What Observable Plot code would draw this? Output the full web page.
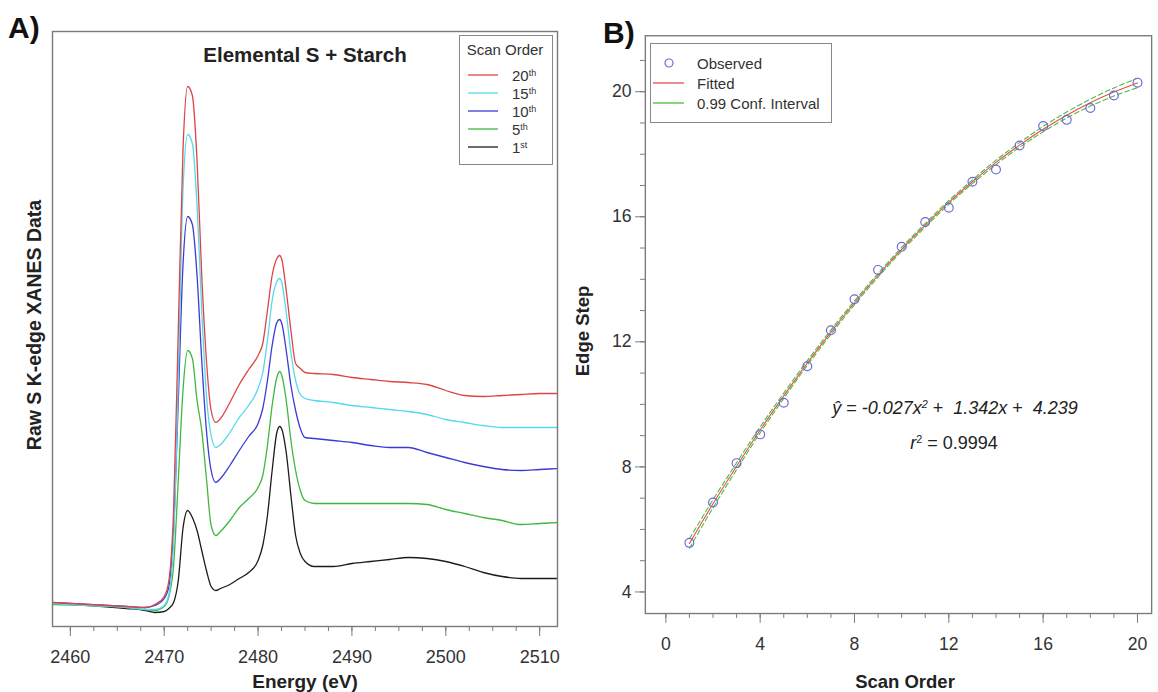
<!DOCTYPE html>
<html><head><meta charset="utf-8">
<script src="https://cdn.jsdelivr.net/npm/d3@7"></script>
<script src="https://cdn.jsdelivr.net/npm/@observablehq/plot@0.6"></script>
<style>
html,body{margin:0;padding:0;background:#fff;overflow:hidden;width:1158px;height:692px;}
body{position:relative;font-family:"Liberation Sans",Arial,Helvetica,sans-serif;color:#222;}
.abs{position:absolute;white-space:nowrap;line-height:1;}
.abs svg{display:block;}
#pa{position:absolute;left:0;top:0;}
#pb{position:absolute;left:590px;top:0;}
sup{font-size:0.6em;vertical-align:0.55em;}
</style></head><body>
<div id="pa"></div><div id="pb"></div>
<script>
// ---------- Panel A data (arbitrary intensity units) ----------
const energy = [2458, 2462, 2466, 2468, 2469, 2470, 2470.5, 2471, 2471.5, 2472, 2472.5, 2473, 2473.5, 2474, 2474.5, 2475, 2475.5, 2476, 2477, 2478, 2479, 2480, 2480.5, 2481, 2481.5, 2482, 2482.3, 2482.5, 2483, 2483.5, 2484, 2484.5, 2485, 2486, 2488, 2490, 2492, 2494, 2496, 2498, 2500, 2502, 2504, 2506, 2508, 2510, 2512];
const scan20 = [24, 22, 20, 19, 22, 30, 46, 116, 296, 476, 540, 531, 466, 351, 266, 216, 204, 208, 224, 242, 257, 271, 283, 316, 351, 368, 371, 368, 336, 296, 263, 258, 254, 253, 252, 249, 247, 245, 244, 242, 236, 231, 230, 231, 232, 233, 233];
const scan15 = [23, 21, 19, 17, 17, 21, 32, 86, 246, 436, 492, 483, 421, 316, 231, 191, 179, 182, 194, 209, 221, 238, 254, 286, 326, 345, 348, 345, 314, 274, 246, 232, 228, 226, 224, 221, 219, 217, 215, 212, 207, 204, 201, 199, 199, 199, 199];
const scan10 = [24, 22, 20, 19, 21, 28, 40, 96, 226, 361, 410, 402, 351, 266, 196, 156, 144, 148, 161, 176, 190, 203, 218, 246, 281, 304, 307, 304, 276, 241, 216, 198, 189, 188, 186, 184, 181, 179, 179, 174, 169, 164, 160, 157, 156, 157, 158];
const scan5 = [22, 21, 19, 17, 16, 20, 30, 61, 146, 236, 276, 268, 226, 196, 148, 101, 91, 95, 106, 119, 128, 139, 151, 181, 221, 249, 255, 252, 226, 186, 156, 136, 126, 123, 123, 123, 123, 123, 123, 122, 117, 113, 109, 106, 102, 103, 104];
const scan1 = [23, 21, 18, 16, 14, 15, 18, 24, 46, 98, 116, 109, 96, 76, 56, 40, 36, 38, 42, 48, 54, 66, 81, 111, 156, 194, 200, 198, 174, 131, 91, 73, 65, 60, 60, 63, 65, 67, 69, 68, 65, 60, 54, 50, 48, 48, 48];
const scanNames = ["20th", "15th", "10th", "5th", "1st"];
const scanColors = ["#dd4444", "#55d8ee", "#3b3bd4", "#3fb83f", "#1c1c1c"];
const energyTicks = [2460, 2470, 2480, 2490, 2500, 2510];
const energyMinor = [2460, 2462.5, 2465, 2467.5, 2470, 2472.5, 2475, 2477.5, 2480, 2482.5, 2485, 2487.5, 2490, 2492.5, 2495, 2497.5, 2500, 2502.5, 2505, 2507.5, 2510];

// ---------- Panel B data ----------
const scanOrder = [1, 2, 3, 4, 5, 6, 7, 8, 9, 10, 11, 12, 13, 14, 15, 16, 17, 18, 19, 20];
const edgeStep = [5.57, 6.86, 8.12, 9.04, 10.05, 11.22, 12.37, 13.36, 14.30, 15.04, 15.83, 16.29, 17.12, 17.51, 18.28, 18.90, 19.10, 19.48, 19.88, 20.29];
const fitted = [5.55, 6.82, 8.02, 9.18, 10.27, 11.32, 12.31, 13.25, 14.13, 14.96, 15.73, 16.46, 17.12, 17.74, 18.29, 18.80, 19.25, 19.65, 19.99, 20.28];
const ciLower = [5.40, 6.69, 7.91, 9.09, 10.19, 11.25, 12.24, 13.19, 14.07, 14.90, 15.67, 16.40, 17.06, 17.67, 18.22, 18.72, 19.16, 19.54, 19.86, 20.13];
const ciUpper = [5.70, 6.95, 8.13, 9.28, 10.36, 11.40, 12.38, 13.31, 14.19, 15.02, 15.79, 16.52, 17.18, 17.81, 18.37, 18.89, 19.35, 19.76, 20.12, 20.43];
const scanTicks = [0, 4, 8, 12, 16, 20];
const scanMinor = [0, 1, 2, 3, 4, 5, 6, 7, 8, 9, 10, 11, 12, 13, 14, 15, 16, 17, 18, 19, 20];
const stepTicks = [4, 8, 12, 16, 20];
const stepMinor = [4, 5, 6, 7, 8, 9, 10, 11, 12, 13, 14, 15, 16, 17, 18, 19, 20, 21];

const FONT = "Liberation Sans, Arial, Helvetica, sans-serif";
const GRAY = "#7a7a7a";

// ---------- Panel A ----------
const seriesA = [scan1, scan5, scan10, scan15, scan20];
const namesA = ["1st", "5th", "10th", "15th", "20th"];
const rowsA = [];
seriesA.forEach((vals, k) => vals.forEach((v, i) => rowsA.push({E: energy[i], v, s: namesA[k]})));

const plotA = Plot.plot({
  width: 580, height: 692,
  marginLeft: 52, marginRight: 23, marginTop: 31, marginBottom: 66,
  style: {fontFamily: FONT, color: "#333", background: "transparent"},
  x: {domain: [2458.1, 2511.9]},
  y: {domain: [0, 595], axis: null},
  color: {domain: scanNames, range: scanColors},
  marks: [
    Plot.line(rowsA, {x: "E", y: "v", z: "s", stroke: "s", strokeWidth: 1.3, curve: "monotone-x", clip: true}),
    Plot.frame({stroke: GRAY, strokeWidth: 1.4}),
    Plot.axisX(energyMinor, {tickSize: 5, tickFormat: () => "", stroke: GRAY, label: null}),
    Plot.axisX(energyTicks, {tickSize: 10, tickPadding: 14, tickFormat: "d", fontSize: 18, stroke: GRAY, label: null})
  ]
});
document.getElementById("pa").appendChild(plotA);

// ---------- Panel B ----------
const rowsB = scanOrder.map((x, i) => ({x, obs: edgeStep[i], fit: fitted[i], lo: ciLower[i], hi: ciUpper[i]}));
const plotB = Plot.plot({
  width: 580, height: 692,
  marginLeft: 56, marginRight: 7, marginTop: 36, marginBottom: 66,
  style: {fontFamily: FONT, color: "#333", background: "transparent"},
  x: {domain: [-0.87, 20.6]},
  y: {domain: [3.31, 21.79]},
  marks: [
    Plot.line(rowsB, {x: "x", y: "lo", stroke: "#4cbc3c", strokeWidth: 1.1, strokeDasharray: "5,3", curve: "monotone-x"}),
    Plot.line(rowsB, {x: "x", y: "hi", stroke: "#4cbc3c", strokeWidth: 1.1, strokeDasharray: "5,3", curve: "monotone-x"}),
    Plot.line(rowsB, {x: "x", y: "fit", stroke: "#e05050", strokeWidth: 1.1, curve: "monotone-x"}),
    Plot.dot(rowsB, {x: "x", y: "obs", r: 4.5, stroke: "#6a6ad8", strokeWidth: 1.2, fill: "none"}),
    Plot.frame({stroke: GRAY, strokeWidth: 1.4}),
    Plot.axisX(scanMinor, {tickSize: 5, tickFormat: () => "", stroke: GRAY, label: null}),
    Plot.axisX(scanTicks, {tickSize: 10, tickPadding: 14, tickFormat: "d", fontSize: 18, stroke: GRAY, label: null}),
    Plot.axisY(stepMinor, {tickSize: 5, tickFormat: () => "", stroke: GRAY, label: null}),
    Plot.axisY(stepTicks, {tickSize: 10, tickPadding: 4, tickFormat: "d", fontSize: 18, stroke: GRAY, label: null})
  ]
});
document.getElementById("pb").appendChild(plotB);

// ---------- Text, titles, legends ----------
function addDiv(html, style) {
  const d = document.createElement("div");
  d.className = "abs";
  d.innerHTML = html;
  Object.assign(d.style, style);
  document.body.appendChild(d);
  return d;
}
function swatchLine(color, w) {
  return "<svg width='" + w + "' height='4'><line x1='0' x2='" + w + "' y1='2' y2='2' stroke='" + color + "' stroke-width='1.3'/></svg>";
}
addDiv("A)", {left: "8px", top: "13px", fontSize: "30px", fontWeight: "bold", color: "#111"});
addDiv("B)", {left: "603px", top: "18px", fontSize: "30px", fontWeight: "bold", color: "#111"});
addDiv("Elemental S + Starch", {left: "305px", top: "55px", transform: "translate(-50%,-50%)", fontSize: "20.5px", fontWeight: "bold", color: "#222"});
addDiv("Energy (eV)", {left: "305px", top: "681px", transform: "translate(-50%,-50%)", fontSize: "19px", fontWeight: "bold", color: "#222"});
addDiv("Scan Order", {left: "905px", top: "682px", transform: "translate(-50%,-50%)", fontSize: "18.5px", fontWeight: "bold", color: "#222"});
addDiv("Raw S K-edge XANES Data", {left: "35px", top: "325px", transform: "translate(-50%,-50%) rotate(-90deg)", fontSize: "19.5px", fontWeight: "bold", color: "#222"});
addDiv("Edge Step", {left: "583px", top: "331px", transform: "translate(-50%,-50%) rotate(-90deg)", fontSize: "18.5px", fontWeight: "bold", color: "#222"});

// equation
addDiv("<i>ŷ</i> = <i>-0.027x</i><sup style='font-style:italic'>2</sup> + &nbsp;<i>1.342x</i> + &nbsp;<i>4.239</i>",
  {left: "955px", top: "408px", transform: "translate(-50%,-50%)", fontSize: "18px", color: "#222"});
addDiv("<i>r</i><sup>2</sup> = 0.9994", {left: "954px", top: "443px", transform: "translate(-50%,-50%)", fontSize: "18px", color: "#222"});

// Legend A
addDiv("", {left: "459px", top: "35px", width: "92px", height: "128px", border: "1px solid #888", background: "#fff"});
addDiv("Scan Order", {left: "505px", top: "49px", transform: "translate(-50%,-50%)", fontSize: "15px", color: "#333"});
const supA = ["th", "th", "th", "th", "st"];
const numA = ["20", "15", "10", "5", "1"];
numA.forEach((n, i) => {
  const y = 75 + i * 18;
  addDiv(swatchLine(scanColors[i], 30), {left: "468px", top: (y - 2) + "px"});
  addDiv(n + "<sup>" + supA[i] + "</sup>", {left: "512px", top: y + "px", transform: "translateY(-45%)", fontSize: "15px", color: "#333"});
});

// Legend B
addDiv("", {left: "650px", top: "43px", width: "180px", height: "78px", border: "1px solid #888", background: "#fff"});
addDiv("<svg width='12' height='12'><circle cx='6' cy='6' r='4' fill='none' stroke='#6a6ad8' stroke-width='1.2'/></svg>", {left: "663px", top: "57px"});
addDiv(swatchLine("#e05050", 31), {left: "653px", top: "81px"});
addDiv(swatchLine("#4cbc3c", 31), {left: "653px", top: "101px"});
[["Observed", 63], ["Fitted", 83], ["0.99 Conf. Interval", 103]].forEach(([t, y]) => {
  addDiv(t, {left: "697px", top: y + "px", transform: "translateY(-50%)", fontSize: "15px", color: "#333"});
});
</script>
</body></html>
